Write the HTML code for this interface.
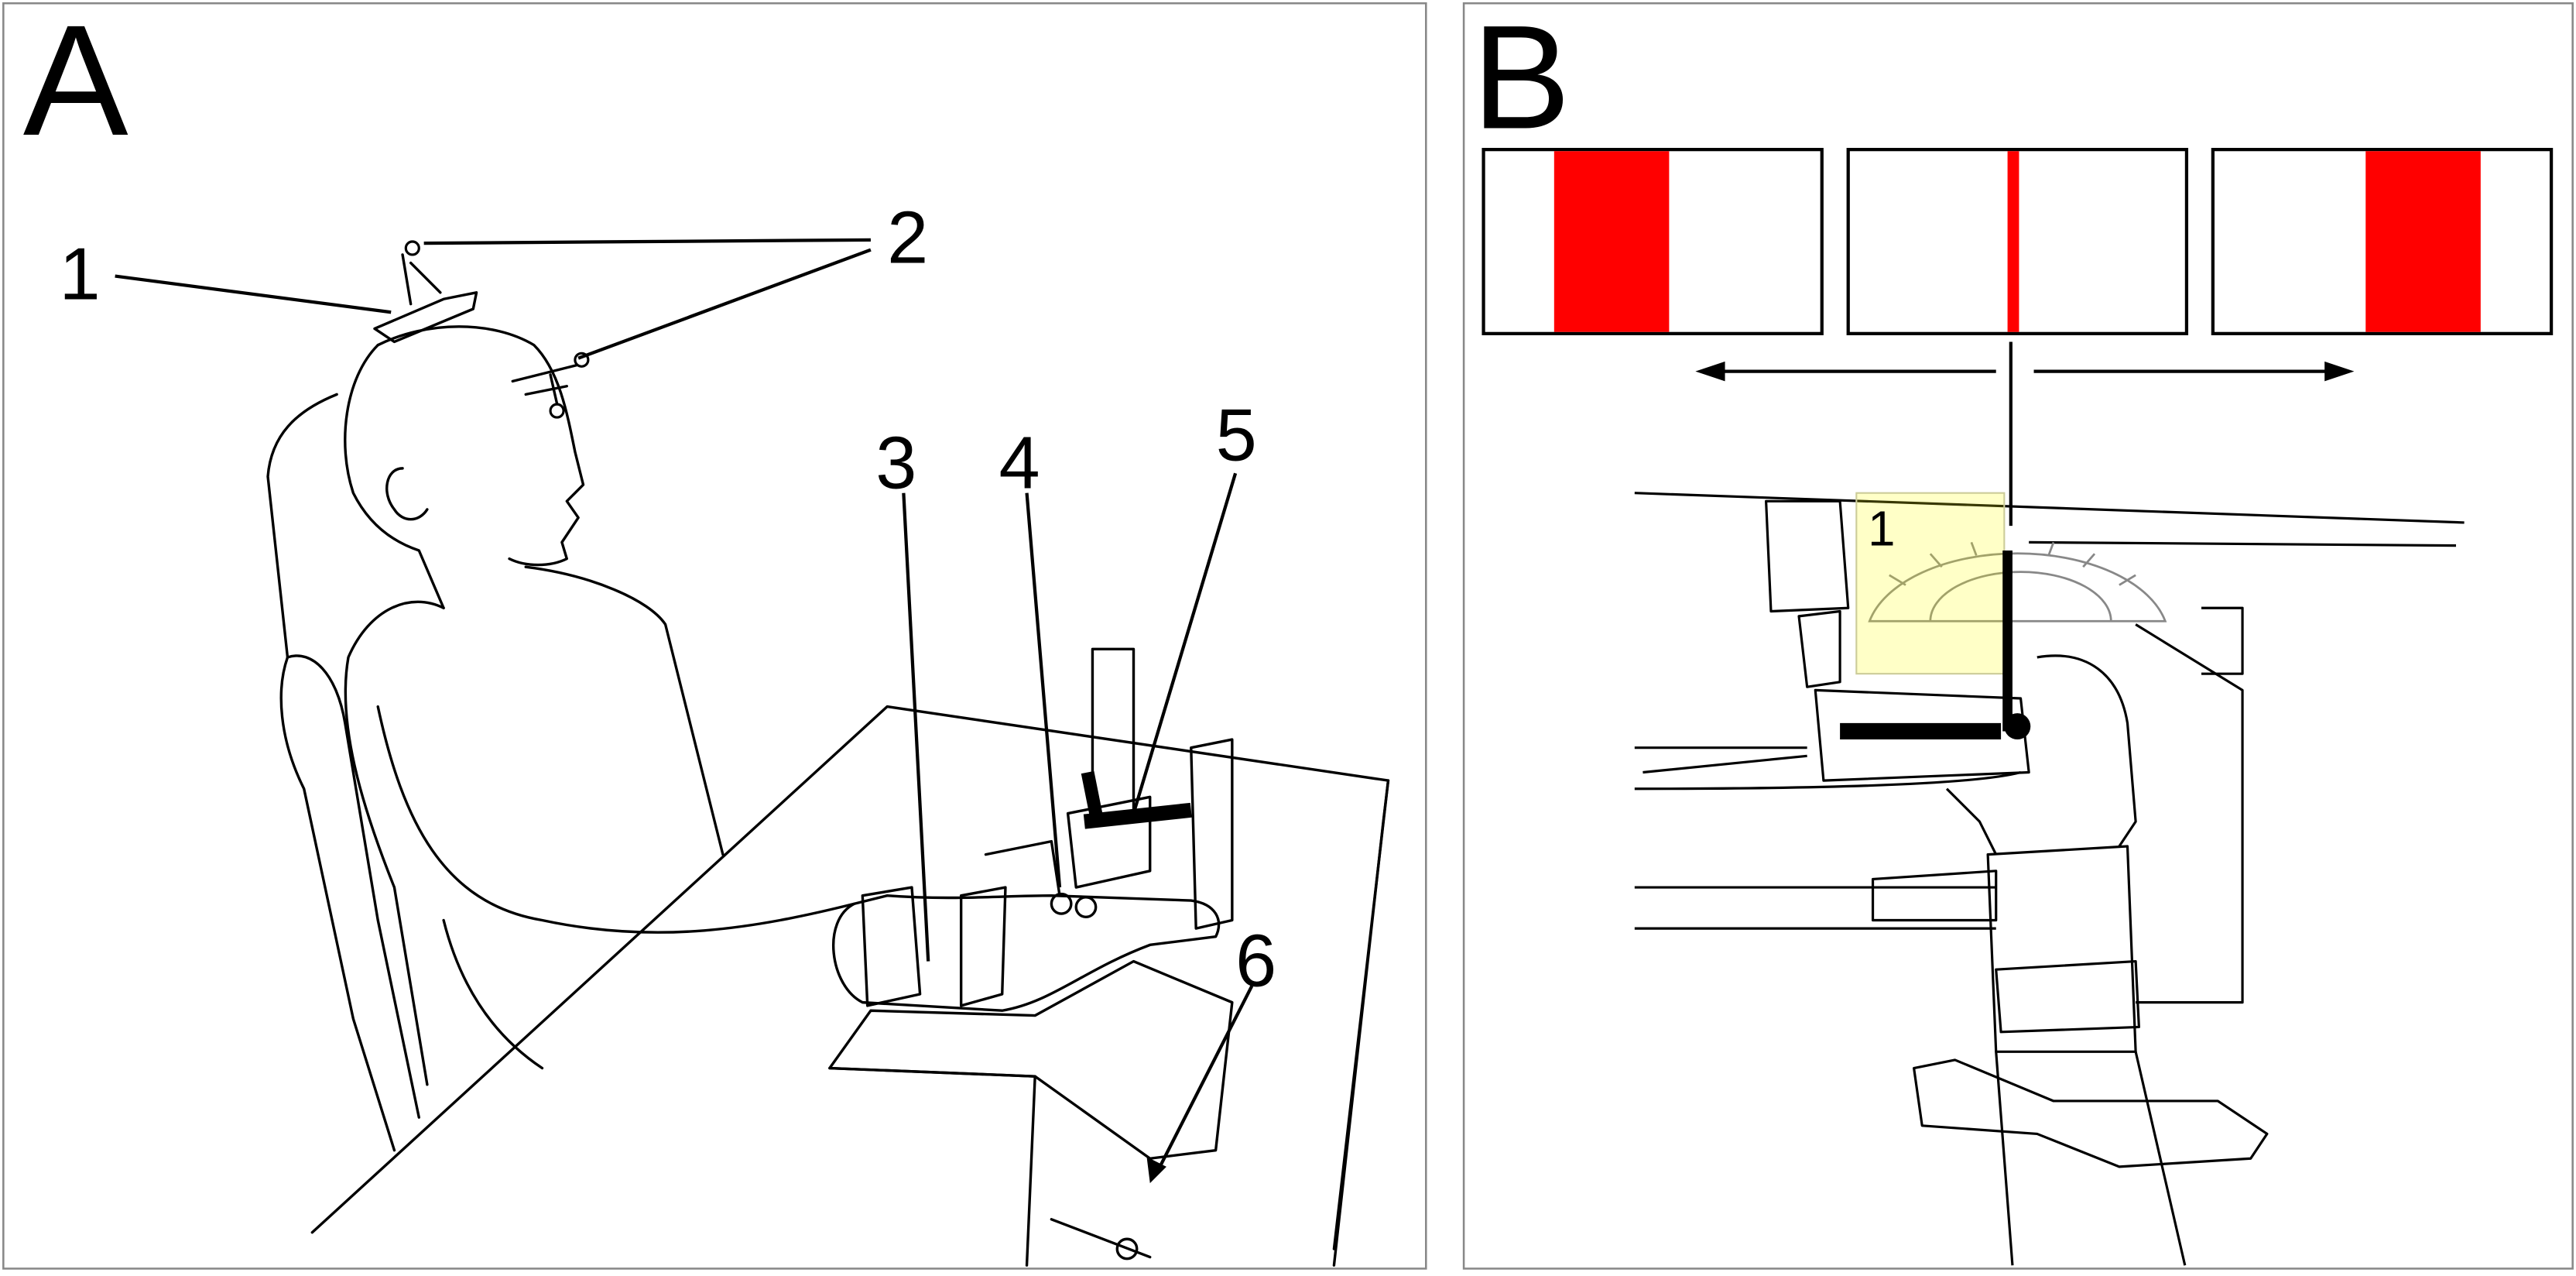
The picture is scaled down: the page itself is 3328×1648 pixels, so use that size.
<!DOCTYPE html>
<html><head><meta charset="utf-8"><style>
html,body{margin:0;padding:0;background:#fff;}
svg{display:block;}
text{font-family:"Liberation Sans",sans-serif;fill:#000;}
</style></head><body>
<svg width="3328" height="1648" viewBox="0 0 1568 776.5" xmlns="http://www.w3.org/2000/svg">
<rect x="0" y="0" width="1568" height="776.5" fill="#fff"/>
<rect x="2" y="2" width="866" height="770" fill="none" stroke="#888" stroke-width="1.2"/>
<rect x="891" y="2" width="675" height="770" fill="none" stroke="#888" stroke-width="1.2"/>
<text x="14" y="82" font-size="96">A</text>
<text x="896" y="78" font-size="90">B</text>

<g fill="none" stroke="#000" stroke-width="1.6" stroke-linejoin="round" stroke-linecap="round">
<path d="M205,240 C180,250 165,265 163,290 L175,400 C168,420 170,450 185,480 L215,620 L240,700"/>
<path d="M175,400 C190,395 205,410 210,440 L230,560 L255,680"/>
<path d="M230,210 C210,230 205,270 215,300 C225,320 240,330 255,335 L270,370"/>
<path d="M230,210 C260,195 300,195 325,210 C340,225 345,250 350,275 L355,295 L345,305 L352,315 L342,330 L345,340 C335,345 320,345 310,340"/>
<path d="M245,285 C235,285 232,300 240,310 C245,318 255,318 260,310"/>
<path d="M270,370 C250,360 225,370 212,400 C205,440 220,490 240,540 L260,660"/>
<path d="M320,345 C360,350 395,365 405,380 C415,420 430,480 440,520"/>
<path d="M230,430 C245,500 270,550 330,560 C400,575 460,565 520,550"/>
<path d="M270,560 C280,600 300,630 330,650"/>
<path d="M190,750 L540,430 L845,475 L812,760"/>
<path d="M845,475 L842,500 L812,770"/>
<path d="M520,550 C500,560 505,600 525,610 L610,615 C640,610 660,590 700,575 L740,570 C745,560 740,550 725,548 L640,545 C610,545 580,548 540,545 Z"/>
<path d="M525,545 L555,540 L560,605 L528,612 Z"/>
<path d="M585,545 L612,540 L610,605 L585,612 Z"/>
<path d="M505,650 L530,615 L630,618 L690,585 L750,610 L740,700 L700,705 L630,655 Z"/>
<path d="M505,650 L630,655"/>
<path d="M630,655 L625,770"/>
<path d="M600,520 L640,512 L645,545"/>
<path d="M665,395 L690,395 L690,500 L665,500 Z"/>
<path d="M650,495 L700,485 L700,530 L655,540 Z"/>
<path d="M725,455 L750,450 L750,560 L728,565 Z"/>
<path d="M640,550 A6,6 0 1 0 652,550 A6,6 0 1 0 640,550 M655,552 A6,6 0 1 0 667,552 A6,6 0 1 0 655,552"/>
<path d="M640,742 L700,765 M680,760 A6,6 0 1 0 692,760 A6,6 0 1 0 680,760"/>
<path d="M228,200 L270,182 L290,178 L288,188 L240,208 Z"/>
<path d="M245,155 L250,185 M250,160 L268,178"/>
<path d="M312,232 L340,225 L352,222 M335,228 L340,250 M320,240 L345,235"/>
</g>
<path d="M660,500 L725,493" stroke="#000" stroke-width="9"/>
<path d="M662,470 L668,500" stroke="#000" stroke-width="8"/>
<circle cx="251" cy="151" r="4" fill="#fff" stroke="#000" stroke-width="1.5"/>
<circle cx="354" cy="219" r="4" fill="#fff" stroke="#000" stroke-width="1.5"/>
<circle cx="339" cy="250" r="4" fill="#fff" stroke="#000" stroke-width="1.5"/>

<g stroke="#000" stroke-width="2" fill="none">
<line x1="70" y1="168" x2="238" y2="190"/>
<line x1="258" y1="148" x2="530" y2="146"/>
<line x1="352" y1="218" x2="530" y2="152"/>
<line x1="550" y1="300" x2="565" y2="585"/>
<line x1="625" y1="300" x2="645" y2="540"/>
<line x1="752" y1="288" x2="690" y2="495"/>
<line x1="762" y1="600" x2="705" y2="712"/>
</g>
<path d="M700,720 L698,704 L710,710 Z" fill="#000"/>
<g font-size="45">
<text x="36" y="182">1</text>
<text x="540" y="160">2</text>
<text x="533" y="297">3</text>
<text x="608" y="297">4</text>
<text x="740" y="280">5</text>
<text x="752" y="600">6</text>
</g>

<g stroke="#000" stroke-width="2" fill="#fff">
<rect x="903" y="91" width="206" height="112"/>
<rect x="1125" y="91" width="206" height="112"/>
<rect x="1347" y="91" width="206" height="112"/>
</g>
<rect x="946" y="92" width="70" height="110" fill="#f00"/>
<rect x="1222" y="92" width="7" height="110" fill="#f00"/>
<rect x="1440" y="92" width="70" height="110" fill="#f00"/>
<g stroke="#000" stroke-width="2">
<line x1="1215" y1="226" x2="1045" y2="226"/>
<line x1="1238" y1="226" x2="1420" y2="226"/>
<line x1="1224" y1="208" x2="1224" y2="320"/>
</g>
<path d="M1032,226 L1050,220 L1050,232 Z M1433,226 L1415,220 L1415,232 Z" fill="#000"/>

<g fill="none" stroke="#000" stroke-width="1.5" stroke-linejoin="round">
<path d="M995,300 L1500,318 M1235,330 L1495,332"/>
<path d="M1075,305 L1120,305 L1125,370 L1078,372 Z"/>
<path d="M1095,375 L1120,372 L1120,415 L1100,418 Z"/>
<path d="M1105,420 L1230,425 L1235,470 L1110,475 Z"/>
<path d="M1300,380 L1365,420 L1365,610 L1300,610"/>
<path d="M1340,370 L1365,370 L1365,410 L1340,410"/>
<path d="M995,455 L1100,455 M1000,470 L1100,460"/>
<path d="M995,480 C1100,480 1200,478 1230,470"/>
<path d="M995,540 L1215,540 M995,565 L1215,565"/>
<path d="M1140,535 L1215,530 L1215,560 L1140,560 Z"/>
<path d="M1210,520 L1295,515 L1300,640 L1215,640 Z"/>
<path d="M1215,590 L1300,585 L1302,625 L1218,628 Z"/>
<path d="M1240,400 C1270,395 1290,410 1295,440 L1300,500 L1290,515"/>
<path d="M1185,480 L1205,500 L1215,520"/>
<path d="M1215,640 L1225,770 M1300,640 L1330,770"/>
<path d="M1165,650 L1190,645 L1250,670 L1350,670 L1380,690 L1370,705 L1290,710 L1240,690 L1170,685 Z"/>
</g>
<g fill="none" stroke="#888" stroke-width="1.3">
<path d="M1138,378 A92,52 0 0 1 1318,378 Z" fill="#fff" fill-opacity="0.3"/>
<path d="M1175,378 A55,30 0 0 1 1285,378"/>
<path d="M1150,350 L1160,356 M1175,337 L1182,345 M1200,330 L1203,338 M1250,330 L1247,338 M1275,337 L1268,345 M1300,350 L1290,356"/>
</g>
<rect x="1130" y="300" width="90" height="110" fill="#ff0" fill-opacity="0.22" stroke="#cc9" stroke-width="1"/>
<path d="M1120,445 L1218,445" stroke="#000" stroke-width="10"/>
<path d="M1222,335 L1222,445" stroke="#000" stroke-width="6"/>
<circle cx="1228" cy="442" r="8" fill="#000"/>
<text x="1137" y="332" font-size="30">1</text>
</svg>
</body></html>
